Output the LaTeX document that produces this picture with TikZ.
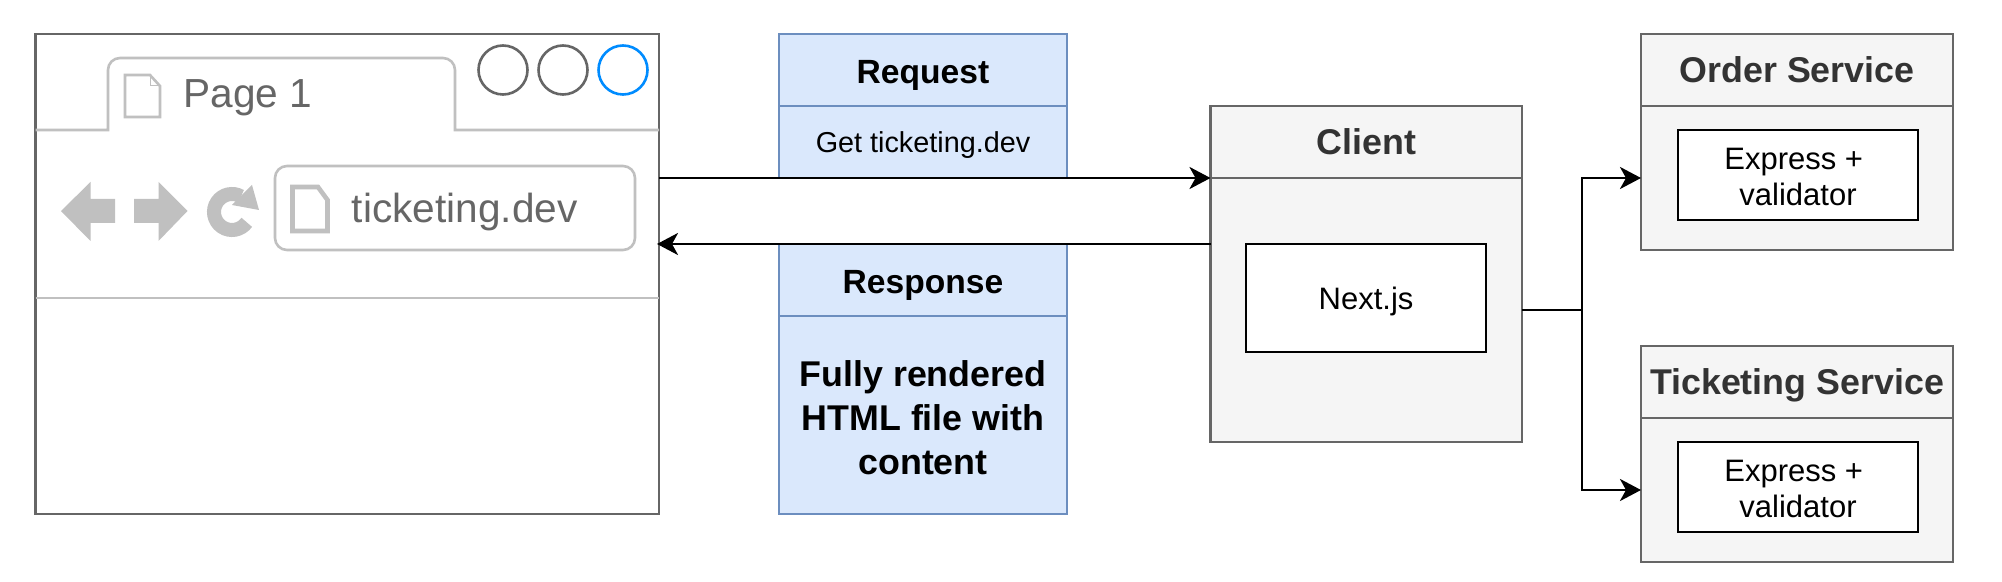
\documentclass[tikz,border=0pt]{standalone}
\usepackage{fontspec}
\setmainfont{Liberation Sans}
\usetikzlibrary{arrows.meta}
\definecolor{blueback}{HTML}{DAE8FC}
\definecolor{blueline}{HTML}{6C8EBF}
\definecolor{greyback}{HTML}{F5F5F5}
\definecolor{greyline}{HTML}{666666}
\definecolor{greytext}{HTML}{333333}
\definecolor{chrome}{HTML}{C0C0C0}
\definecolor{winblue}{HTML}{008CFF}
\tikzset{
  cell/.style 2 args={anchor=north west, inner sep=0pt, outer sep=0pt, line width=1.4pt, align=center,
    minimum width=#1*0.5pt, minimum height=#2*0.5pt},
  bluecell/.style={draw=blueline, fill=blueback, text=black},
  greycell/.style={draw=greyline, fill=greyback, text=greytext},
  whitecell/.style={draw=black, fill=white, text=black, font=\fontsize{15.5}{18}\selectfont},
  headtext/.style={text depth=0pt, font=\fontsize{17.9}{22}\selectfont\bfseries},
  blueheadtext/.style={text height=14pt, text depth=0pt, font=\fontsize{16.8}{20}\selectfont\bfseries},
  chromeline/.style={draw=chrome, line width=1.3pt},
  webtext/.style={anchor=base west, inner sep=0pt, text=greyline, font=\fontsize{20.3}{24}\selectfont},
  link/.style={draw=black, line width=1.4pt, -{Stealth[length=10.5pt, width=11pt, inset=3pt]}},
}
\begin{document}
\begin{tikzpicture}[x=0.5pt, y=-0.5pt]
  \useasboundingbox (0,0) rectangle (2002,582);

  % browser window
  \node[cell={623.5}{480}, draw=greyline, fill=white] (browser) at (35.5,34) {};
  \draw[chromeline] (browser.west |- 0,130) -- (108,130) [rounded corners=6pt] -- (108,58) -- (455,58) [sharp corners] -- (455,130) -- (browser.east |- 0,130);
  \draw[chromeline] (browser.west |- 0,298) -- (browser.east |- 0,298);
  \foreach \x/\col in {503/greyline, 563/greyline, 623/winblue} {
    \draw[draw=\col, line width=1.3pt] (\x,70) circle (12.25pt);
  }
  \draw[chromeline] (125,75) -- (150,75) -- (160,86) -- (160,117) -- (125,117) -- cycle;
  \draw[draw=chrome, line width=0.5pt] (150,75) -- (150,86) -- (160,86);
  \node[webtext] (tabtext) at (183,108) {Page 1};

  \fill[chrome] (61,211) -- (90.5,182) -- (90.5,199) -- (115,199) -- (115,223) -- (90.5,223) -- (90.5,241) -- cycle;
  \fill[chrome] (187.5,211) -- (158.5,182) -- (158.5,199) -- (134,199) -- (134,223) -- (158.5,223) -- (158.5,241) -- cycle;
  \draw[draw=chrome, line width=7pt] (232,212) ++(35:18 and 18) arc[start angle=35, end angle=300, radius=18];
  \fill[chrome] (259,210) -- (252,185) -- (232,205) -- cycle;

  \draw[chromeline, rounded corners=6pt] (275,166) rectangle (635,250);
  \draw[draw=chrome, line width=2.3pt] (292.5,187) -- (318,187) -- (327.5,200) -- (327.5,231) -- (292.5,231) -- cycle;
  \node[webtext] (urltext) at (351.5,223) {ticketing.dev};

  % request and response
  \node[cell={288}{72}, bluecell, blueheadtext] (reqhead) at (779,34) {Request};
  \node[cell={288}{72}, bluecell, text depth=0pt, font=\fontsize{14.4}{17}\selectfont] (reqbody) at (779,106) {Get ticketing.dev};
  \node[cell={288}{72}, bluecell, blueheadtext] (resphead) at (779,244) {Response};
  \node[cell={288}{198}, bluecell, font=\fontsize{17.9}{22}\selectfont\bfseries] (respbody) at (779,316) {\rule{0pt}{15.3pt}Fully rendered\\HTML file with\\content};

  % client
  \node[cell={311.5}{72}, greycell, headtext] (clienthead) at (1210.5,106) {Client};
  \node[cell={311.5}{264}, greycell] (clientbody) at (1210.5,178) {};
  \node[cell={240}{108}, whitecell, text depth=0pt] (nextjs) at (1246,244) {Next.js};

  % services
  \foreach \svc/\title/\y in {order/Order Service/34, ticket/Ticketing Service/346} {
    \node[cell={312}{72}, greycell, headtext] (\svc head) at (1641,\y) {\title};
    \node[cell={312}{144}, greycell] (\svc body) at (1641,\y+72) {};
    \node[cell={240}{90}, whitecell] (\svc box) at (1678,\y+96) {\rule{0pt}{13.1pt}Express +\ \mbox{}\\validator};
  }

  \draw[link] (browser.east |- reqbody.south) -- (clienthead.south west);
  \draw[link] (clientbody.west |- nextjs.north) -- ([xshift=-1pt]browser.east |- nextjs.north);

  \coordinate (fork) at ([xshift=30pt]clientbody.east);
  \draw[line width=1.4pt] (clientbody.east) -- (fork);
  \draw[link] (fork) |- (orderbody.west);
  \draw[link] (fork) |- (ticketbody.west);
\end{tikzpicture}
\end{document}
